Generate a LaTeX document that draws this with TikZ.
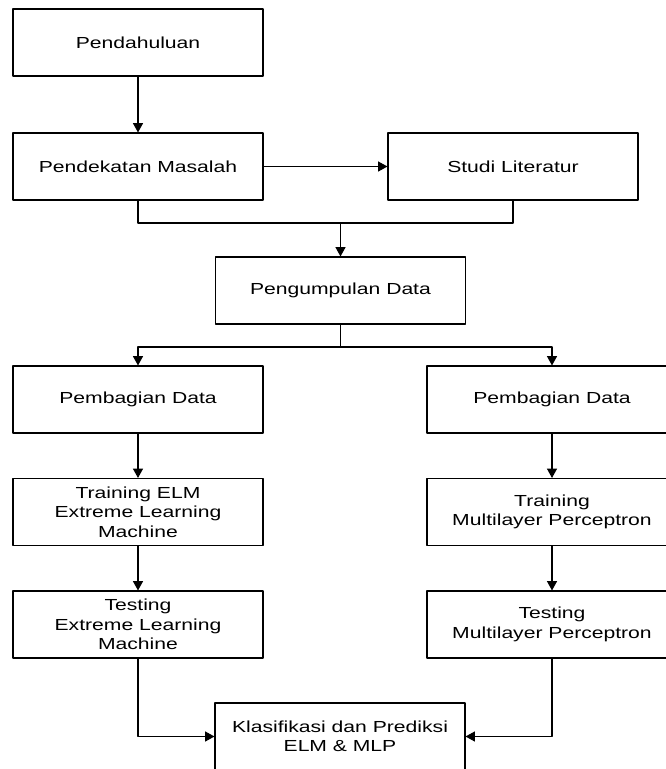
\documentclass[tikz,border=0pt]{standalone}
\usepackage{fontspec}
\setmainfont{Liberation Sans}[FakeStretch=1.32]
\usetikzlibrary{arrows.meta}
\usetikzlibrary{positioning}

\tikzset{
  boxstep/.style={draw,line width=0.8pt,minimum width=187.5pt,minimum height=50.25pt,
    align=center,inner sep=2pt,font=\fontsize{12}{14.6}\selectfont},
  flow/.style={line width=0.8pt,-{Triangle[length=7pt,width=7.5pt]}},
  plain/.style={line width=0.8pt}
}

\begin{document}
\begin{tikzpicture}[line cap=round,line join=round,x=0.75pt,y=-0.75pt]
\useasboundingbox (0,0) rectangle (666,769);
\clip (0,0) rectangle (666,769);
% boxes
\node [boxstep] (pendahuluan) at (138,42.5) {Pendahuluan};
\node [boxstep] (pendekatan) at (138,166.5) {Pendekatan Masalah};
\node [boxstep] (studi) at (513,166.5) {Studi Literatur};
\node [boxstep] (kumpul) at (340.5,290.5) {Pengumpulan Data};
\node [boxstep] (bagiA) at (138,399.5) {Pembagian Data};
\node [boxstep] (bagiB) at (552,399.5) {Pembagian Data};
\node [boxstep] (trainA) at (138,512) {Training ELM\\Extreme Learning\\Machine};
\node [boxstep] (trainB) at (552,512) {Training\\Multilayer Perceptron};
\node [boxstep] (testA) at (138,624.5) {Testing\\Extreme Learning\\Machine};
\node [boxstep] (testB) at (552,624.5) {Testing\\Multilayer Perceptron};
\node [boxstep] (klasifikasi) at (340,736.5) {Klasifikasi dan Prediksi\\ELM \& MLP};
% junctions
\coordinate (gabung) at (340.5,223);
\coordinate (cabang) at (340.5,347);
% connectors
\draw [flow] (pendahuluan) -- (pendekatan);
\draw [flow] (pendekatan) -- (studi);
\draw [plain] (pendekatan.south) |- (gabung);
\draw [plain] (studi.south) |- (gabung);
\draw [flow] (gabung) -- (kumpul);
\draw [plain] (kumpul) -- (cabang);
\draw [flow] (cabang) -| (bagiA);
\draw [flow] (cabang) -| (bagiB);
\draw [flow] (bagiA) -- (trainA);
\draw [flow] (trainA) -- (testA);
\draw [flow] (bagiB) -- (trainB);
\draw [flow] (trainB) -- (testB);
\draw [flow] (testA.south) |- (klasifikasi.west);
\draw [flow] (testB.south) |- (klasifikasi.east);
\end{tikzpicture}
\end{document}
